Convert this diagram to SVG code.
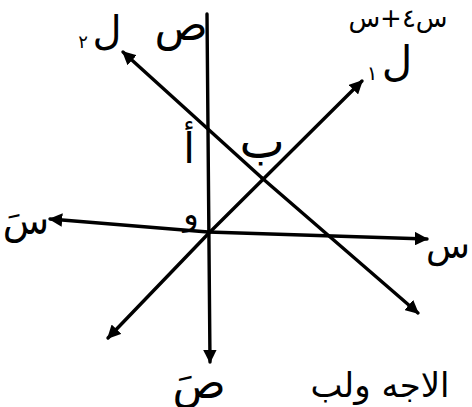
<svg xmlns="http://www.w3.org/2000/svg" width="472" height="407" viewBox="0 0 472 407">
<style>
.ln{stroke:#000;stroke-width:3.4;fill:none;stroke-linecap:round;stroke-linejoin:round}
.t{font-family:"DejaVu Sans",sans-serif;fill:#000;text-anchor:middle}
</style>
<defs>
<marker id="ah" viewBox="0 0 10 10" refX="9" refY="5" markerWidth="4" markerHeight="4" orient="auto" markerUnits="strokeWidth">
<path d="M0,0 L10,5 L0,10 z" fill="#000"/>
</marker>
</defs>
<rect width="472" height="407" fill="#fff"/>
<g id="connectors">
<line id="y-axis" class="ln" x1="207" y1="14" x2="210" y2="362" marker-end="url(#ah)"/>
<polyline id="x-axis-left" class="ln" points="208,232 50,219" marker-end="url(#ah)"/>
<polyline id="x-axis-right" class="ln" points="208,232 427,239" marker-end="url(#ah)"/>
<line id="L1-up" class="ln" x1="208" y1="234" x2="362" y2="81" marker-end="url(#ah)"/>
<line id="L1-down" class="ln" x1="208" y1="234" x2="108" y2="338" marker-end="url(#ah)"/>
<line id="L2-up" class="ln" x1="262" y1="178" x2="123" y2="52" marker-end="url(#ah)"/>
<line id="L2-down" class="ln" x1="262" y1="178" x2="418" y2="313" marker-end="url(#ah)"/>
</g>
<g id="label-y"><text class="t" x="181" y="40" font-size="44">ص</text></g>
<g id="label-L2"><text class="t" x="107" y="44" font-size="40">ل</text><text class="t" x="83" y="48" font-size="18">٢</text></g>
<g id="label-L1"><text class="t" x="397" y="76" font-size="42">ل</text><text class="t" x="372" y="80" font-size="20">١</text></g>
<g id="label-A"><text class="t" x="189" y="163" font-size="42">أ</text></g>
<g id="label-B"><text class="t" x="262" y="158" font-size="48">ب</text></g>
<g id="label-O"><text class="t" x="191" y="225" font-size="32">و</text></g>
<g id="label-xneg"><text class="t" x="26" y="234" font-size="38">سَ</text></g>
<g id="label-x"><text class="t" x="448" y="258" font-size="36">س</text></g>
<g id="label-yneg"><text class="t" x="199" y="398" font-size="44">صَ</text></g>
<g id="top-text"><text class="t" x="398" y="27" font-size="26" style="direction:ltr;unicode-bidi:bidi-override">س+٤س</text></g>
<g id="bottom-text"><text class="t" x="380" y="397" font-size="34">الاجه ولب</text></g>
</svg>
